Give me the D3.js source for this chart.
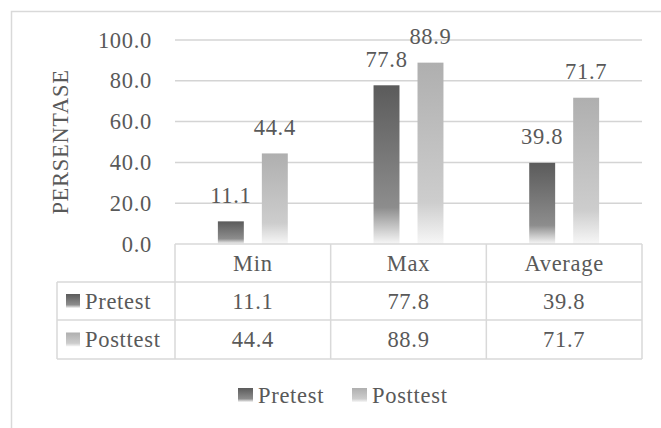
<!DOCTYPE html>
<html>
<head>
<meta charset="utf-8">
<script src="https://cdn.jsdelivr.net/npm/d3@7"></script>
<style>
  html, body { margin: 0; padding: 0; background: #fff; }
  svg { display: block; }
</style>
</head>
<body>
<svg id="chart" width="661" height="428"></svg>
<script>
// Chart data
const categories = ["Min", "Max", "Average"];
const seriesNames = ["Pretest", "Posttest"];
const pretest = [11.1, 77.8, 39.8];
const posttest = [44.4, 88.9, 71.7];
const yTicks = [0, 20, 40, 60, 80, 100];
const yTitle = "PERSENTASE";

const seriesValues = [pretest, posttest];

const fontFamily = "'Liberation Serif', 'Times New Roman', serif";
const fontSize = 22.5;
const textColor = "#595959";
const gridColor = "#d4d4d4";
const borderColor = "#d9d9d9";

const svg = d3.select("#chart")
  .attr("font-family", fontFamily)
  .attr("font-size", fontSize)
  .attr("letter-spacing", 0.7);

// helper for every text element
function label(sel) {
  return sel.attr("font-family", fontFamily)
    .attr("font-size", fontSize)
    .attr("fill", textColor)
    .attr("dominant-baseline", "central");
}

// Gradient fills for each series (dark top fading out at the base)
const gradStops = {
  Pretest: [[0, "#5b5b5b"], [0.77, "#8d8d8d"], [1, "#f7f7f7"]],
  Posttest: [[0, "#afafaf"], [0.77, "#cdcdcd"], [1, "#f7f7f7"]]
};
const defs = svg.append("defs");
seriesNames.forEach(name => {
  const g = defs.append("linearGradient")
    .attr("id", "grad-" + name)
    .attr("x1", 0).attr("y1", 0).attr("x2", 0).attr("y2", 1);
  gradStops[name].forEach(([o, c]) => g.append("stop").attr("offset", o).attr("stop-color", c));
});

// Outer chart frame
svg.append("rect")
  .attr("x", 11.5).attr("y", 11.5)
  .attr("width", 700).attr("height", 500)
  .attr("fill", "#fff")
  .attr("stroke", borderColor).attr("stroke-width", 1.5);

// Scales
const plotLeft = 175, plotRight = 642, plotTop = 40, plotBottom = 244;
const x = d3.scaleBand().domain(categories).range([plotLeft, plotRight]).paddingInner(0).paddingOuter(0);
const xs = d3.scaleBand().domain(seriesNames).range([0, x.bandwidth()]).paddingInner(0.41).paddingOuter(0.975);
const y = d3.scaleLinear().domain([0, 100]).range([plotBottom, plotTop]);

// Gridlines
svg.append("g").selectAll("line")
  .data(yTicks.filter(t => t > 0))
  .join("line")
  .attr("x1", plotLeft).attr("x2", plotRight)
  .attr("y1", d => y(d)).attr("y2", d => y(d))
  .attr("stroke", gridColor).attr("stroke-width", 1.5);

// Y tick labels
svg.append("g").selectAll("text")
  .data(yTicks)
  .join("text")
  .call(label)
  .attr("x", 152)
  .attr("y", d => y(d))
  .attr("text-anchor", "end")
  .text(d => d.toFixed(1));

// Y axis title
svg.append("text")
  .call(label)
  .attr("transform", `translate(60,${(plotTop + plotBottom) / 2}) rotate(-90)`)
  .attr("text-anchor", "middle")
  .text(yTitle);

// Bars and value labels
const barData = [];
seriesNames.forEach((s, si) => {
  categories.forEach((c, ci) => barData.push({ series: s, cat: c, value: seriesValues[si][ci] }));
});

svg.append("g").selectAll("rect")
  .data(barData)
  .join("rect")
  .attr("x", d => x(d.cat) + xs(d.series))
  .attr("width", xs.bandwidth())
  .attr("y", d => y(d.value))
  .attr("height", d => y(0) - y(d.value))
  .attr("fill", d => `url(#grad-${d.series})`);

svg.append("g").selectAll("text")
  .data(barData)
  .join("text")
  .call(label)
  .attr("x", d => x(d.cat) + xs(d.series) + xs.bandwidth() / 2)
  .attr("y", d => y(d.value) - 26)
  .attr("text-anchor", "middle")
  .text(d => d.value.toFixed(1));

// Data table below the plot
const tableLeft = 57;
const rowEdges = [244, 282, 320, 359];
const colEdges = [plotLeft].concat(categories.map(c => x(c) + x.bandwidth()));
const tbl = svg.append("g").attr("stroke", borderColor).attr("stroke-width", 1.5);
// horizontal rules
rowEdges.forEach((ry, i) => {
  tbl.append("line")
    .attr("x1", i === 0 ? plotLeft : tableLeft).attr("x2", plotRight)
    .attr("y1", ry).attr("y2", ry);
});
// vertical rules
colEdges.forEach(cx => {
  tbl.append("line").attr("x1", cx).attr("x2", cx).attr("y1", rowEdges[0]).attr("y2", rowEdges[3]);
});
tbl.append("line").attr("x1", tableLeft).attr("x2", tableLeft).attr("y1", rowEdges[1]).attr("y2", rowEdges[3]);

// header: category names
svg.append("g").selectAll("text")
  .data(categories)
  .join("text")
  .call(label)
  .attr("x", d => x(d) + x.bandwidth() / 2)
  .attr("y", (rowEdges[0] + rowEdges[1]) / 2)
  .attr("text-anchor", "middle")
  .text(d => d);

// series rows
seriesNames.forEach((s, si) => {
  const cy = (rowEdges[si + 1] + rowEdges[si + 2]) / 2;
  const row = svg.append("g");
  row.append("rect")
    .attr("x", 66).attr("y", cy - 7)
    .attr("width", 14).attr("height", 14)
    .attr("fill", `url(#grad-${s})`);
  row.append("text")
    .call(label)
    .attr("x", 85).attr("y", cy)
    .text(s);
  row.selectAll("text.val")
    .data(seriesValues[si])
    .join("text")
    .attr("class", "val")
    .call(label)
    .attr("x", (d, i) => x(categories[i]) + x.bandwidth() / 2)
    .attr("y", cy)
    .attr("text-anchor", "middle")
    .text(d => d.toFixed(1));
});

// Legend
const legendY = 395;
const legendX = [238, 352];
const legend = svg.append("g");
seriesNames.forEach((s, i) => {
  legend.append("rect")
    .attr("x", legendX[i]).attr("y", legendY - 7)
    .attr("width", 15).attr("height", 14)
    .attr("fill", `url(#grad-${s})`);
  legend.append("text")
    .call(label)
    .attr("x", legendX[i] + 20).attr("y", legendY)
    .text(s);
});
</script>
</body>
</html>
